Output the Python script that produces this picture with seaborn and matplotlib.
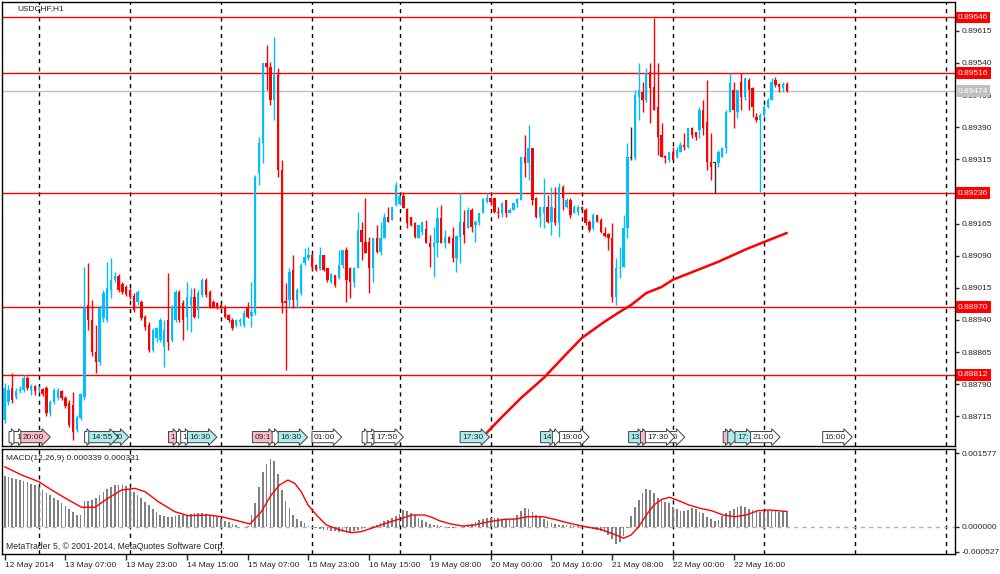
import numpy as np
import pandas as pd
import matplotlib
matplotlib.use("Agg")
import matplotlib.pyplot as plt
import seaborn as sns

sns.set_style("white")
plt.rcParams['font.family'] = ['Liberation Sans', 'DejaVu Sans']

# USDCHF H1 bars, prices in points (1e-5)
opens = [
    88707, 88749, 88782, 88761, 88775, 88777, 88805, 88777, 88786, 88777,
    88779, 88782, 88723, 88749, 88758, 88775, 88758, 88747, 88742, 88684,
    88712, 88761, 88975, 88940, 88866, 88842, 88945, 88940, 89010, 89034,
    89043, 89024, 89017, 89010, 88996, 88982, 88982, 88947, 88929, 88870,
    88898, 88894, 88877, 88940, 88894, 88940, 89006, 88980, 88947, 88975,
    88994, 88964, 88999, 89034, 89006, 88982, 88980, 88975, 88971, 88952,
    88940, 88929, 88936, 88929, 88968, 88950, 88957, 89283, 89353, 89540,
    89531, 89454, 89512, 89290, 88985, 88987, 89057, 88987, 89003, 89073,
    89085, 89092, 89069, 89059, 89092, 89062, 89029, 89045, 89038, 89069,
    89104, 89062, 89029, 89062, 89150, 89122, 89122, 89062, 89132, 89099,
    89132, 89181, 89174, 89209, 89211, 89230, 89199, 89181, 89167, 89132,
    89146, 89153, 89120, 89111, 89120, 89178, 89120, 89134, 89132, 89085,
    89134, 89169, 89155, 89197, 89162, 89169, 89190, 89216, 89225, 89225,
    89192, 89190, 89220, 89190, 89197, 89213, 89220, 89321, 89307, 89342,
    89225, 89181, 89190, 89204, 89169, 89202, 89167, 89251, 89204, 89220,
    89190, 89192, 89204, 89197, 89169, 89155, 89185, 89174, 89143, 89141,
    89132, 88994, 89062, 89064, 89155, 89318, 89321, 89461, 89472, 89454,
    89519, 89484, 89437, 89372, 89323, 89314, 89332, 89321, 89332, 89349,
    89344, 89388, 89379, 89384, 89430, 89402, 89309, 89307, 89307, 89321,
    89342, 89426, 89477, 89426, 89496, 89461, 89500, 89482, 89414, 89407,
    89419, 89437, 89454, 89500, 89491, 89482, 89491,
]
highs = [
    88793, 88789, 88817, 88782, 88786, 88812, 88810, 88791, 88789, 88786,
    88782, 88786, 88754, 88782, 88782, 88777, 88763, 88754, 88772, 88719,
    88770, 89064, 89073, 88987, 88929, 88975, 89010, 89076, 89085, 89052,
    89048, 89029, 89022, 89015, 89003, 89010, 88987, 88952, 88936, 88922,
    88924, 88945, 88940, 89050, 88975, 89010, 89010, 88987, 89029, 89015,
    89015, 89010, 89038, 89038, 89010, 88987, 88982, 88978, 88975, 88954,
    88945, 88943, 88945, 88964, 88982, 89029, 89279, 89367, 89540, 89582,
    89542, 89601, 89528, 89314, 89027, 89062, 89092, 89015, 89073, 89108,
    89111, 89097, 89071, 89111, 89092, 89062, 89050, 89045, 89104, 89104,
    89111, 89064, 89064, 89192, 89169, 89225, 89134, 89132, 89162, 89169,
    89190, 89204, 89204, 89262, 89232, 89239, 89202, 89181, 89169, 89162,
    89169, 89174, 89139, 89157, 89204, 89209, 89150, 89136, 89157, 89139,
    89237, 89197, 89204, 89202, 89174, 89190, 89225, 89237, 89227, 89225,
    89204, 89216, 89220, 89202, 89213, 89225, 89321, 89372, 89395, 89342,
    89227, 89204, 89272, 89232, 89251, 89251, 89260, 89255, 89225, 89225,
    89209, 89209, 89206, 89202, 89174, 89190, 89185, 89178, 89157, 89143,
    89167, 89085, 89111, 89185, 89353, 89391, 89477, 89540, 89496, 89528,
    89540, 89645, 89540, 89400, 89325, 89332, 89344, 89344, 89356, 89377,
    89388, 89391, 89379, 89437, 89454, 89500, 89377, 89309, 89337, 89344,
    89430, 89517, 89496, 89477, 89517, 89505, 89505, 89484, 89423, 89423,
    89442, 89458, 89505, 89507, 89493, 89496, 89496,
]
lows = [
    88700, 88742, 88747, 88756, 88770, 88772, 88777, 88765, 88765, 88772,
    88763, 88716, 88716, 88744, 88754, 88754, 88735, 88691, 88660, 88679,
    88707, 88754, 88917, 88857, 88817, 88835, 88936, 88936, 88992, 89029,
    89006, 89001, 88996, 88989, 88959, 88975, 88940, 88917, 88866, 88866,
    88889, 88889, 88831, 88870, 88889, 88936, 88936, 88894, 88917, 88912,
    88945, 88945, 88994, 88994, 88968, 88968, 88966, 88964, 88945, 88936,
    88917, 88924, 88926, 88924, 88945, 88924, 88952, 89255, 89307, 89477,
    89442, 89407, 89274, 88957, 88824, 88968, 88968, 88968, 88999, 89069,
    89080, 89057, 89055, 89057, 89055, 89029, 89027, 89017, 89036, 89062,
    88982, 88992, 89017, 89062, 89080, 89097, 89003, 89029, 89097, 89092,
    89132, 89169, 89174, 89206, 89209, 89202, 89155, 89160, 89132, 89132,
    89139, 89120, 89064, 89041, 89087, 89120, 89108, 89120, 89076, 89052,
    89073, 89120, 89155, 89146, 89122, 89162, 89190, 89213, 89209, 89190,
    89178, 89181, 89181, 89190, 89197, 89204, 89220, 89274, 89267, 89209,
    89178, 89157, 89155, 89167, 89139, 89162, 89134, 89197, 89202, 89178,
    89190, 89185, 89197, 89162, 89146, 89150, 89169, 89143, 89134, 89104,
    88982, 88975, 89038, 89064, 89132, 89314, 89314, 89407, 89426, 89449,
    89400, 89430, 89325, 89321, 89307, 89309, 89314, 89318, 89332, 89337,
    89342, 89365, 89360, 89365, 89372, 89290, 89267, 89237, 89297, 89321,
    89330, 89426, 89388, 89412, 89430, 89454, 89430, 89414, 89402, 89239,
    89414, 89435, 89454, 89484, 89472, 89472, 89472,
]
closes = [
    88782, 88777, 88754, 88775, 88779, 88805, 88782, 88786, 88775, 88779,
    88768, 88723, 88749, 88777, 88777, 88758, 88740, 88695, 88679, 88714,
    88768, 88968, 88940, 88866, 88842, 88968, 89003, 89015, 89034, 89043,
    89010, 89006, 89001, 88994, 88964, 89006, 88945, 88924, 88870, 88917,
    88922, 88940, 88917, 88889, 88971, 89006, 88940, 88940, 88994, 88994,
    88947, 89003, 89034, 88999, 88971, 88971, 88968, 88968, 88947, 88940,
    88922, 88940, 88940, 88957, 88947, 88959, 89274, 89353, 89540, 89531,
    89454, 89512, 89290, 88980, 88980, 89052, 88987, 89010, 89069, 89087,
    89092, 89064, 89057, 89092, 89057, 89034, 89048, 89022, 89069, 89104,
    89034, 89029, 89062, 89150, 89122, 89097, 89062, 89132, 89099, 89132,
    89181, 89169, 89204, 89255, 89230, 89202, 89167, 89162, 89134, 89162,
    89169, 89120, 89111, 89120, 89178, 89120, 89134, 89120, 89085, 89136,
    89169, 89139, 89197, 89157, 89169, 89190, 89223, 89225, 89216, 89192,
    89190, 89213, 89190, 89197, 89213, 89223, 89321, 89307, 89342, 89220,
    89181, 89204, 89204, 89169, 89204, 89167, 89251, 89225, 89220, 89185,
    89204, 89204, 89197, 89167, 89150, 89185, 89169, 89146, 89136, 89132,
    88994, 89062, 89064, 89155, 89321, 89318, 89465, 89477, 89454, 89517,
    89482, 89430, 89367, 89321, 89318, 89332, 89314, 89337, 89349, 89344,
    89388, 89372, 89367, 89430, 89388, 89309, 89297, 89307, 89332, 89342,
    89426, 89493, 89430, 89477, 89461, 89505, 89477, 89437, 89407, 89419,
    89437, 89454, 89496, 89489, 89484, 89491, 89474,
]

# MACD(12,26,9) main histogram, units of 1e-6
macd = [
    1086, 1065, 1044, 1022, 1001, 980, 959, 916, 895, 852,
    788, 724, 682, 618, 575, 511, 447, 383, 320, 256,
    256, 554, 554, 575, 618, 682, 746, 809, 852, 895,
    895, 895, 873, 809, 746, 682, 618, 533, 469, 383,
    320, 256, 234, 213, 213, 234, 256, 256, 256, 277,
    298, 298, 298, 277, 256, 234, 213, 170, 128, 107,
    64, 43, 5, 3, 21, 256, 511, 852, 1172, 1342,
    1448, 1406, 1129, 788, 554, 405, 256, 170, 128, 85,
    21, 2, -21, -43, -64, -64, -85, -85, -107, -107,
    -128, -107, -85, -64, -43, -21, 2, 21, 43, 85,
    128, 149, 192, 234, 277, 362, 341, 298, 256, 192,
    149, 107, 64, 43, 43, 21, 4, -21, -21, -4,
    4, 21, 43, 64, 107, 149, 170, 192, 192, 192,
    192, 170, 170, 170, 192, 256, 341, 405, 383, 320,
    256, 213, 170, 128, 85, 64, 43, 43, 43, 43,
    21, 21, 4, -4, -21, -43, -64, -85, -107, -170,
    -256, -362, -320, -192, -21, 234, 426, 575, 724, 809,
    788, 724, 618, 575, 533, 511, 426, 383, 341, 341,
    362, 405, 383, 320, 298, 213, 170, 128, 149, 234,
    298, 341, 383, 426, 447, 426, 383, 362, 341, 320,
    320, 341, 341, 341, 320, 341, 339,
]
# MACD signal line read at these bars, units of 1e-6
signal_bars = [0, 4.5, 9, 12.4, 16.8, 20.3, 23.8, 27.3, 30.8, 34.3, 37, 40.5, 44.8,
               48.4, 53.6, 57.1, 60.6, 64.6, 67.6, 70.2, 72.4, 74.6, 76.4, 78.1,
               79.9, 82.1, 84.7, 87.8, 91.3, 93.9, 97.4, 100.9, 104, 107.4, 110.5,
               112.5, 114.5, 117.5, 120.6, 123.6, 127.6, 131.7, 134.7, 137.7, 141.8,
               144.8, 148.8, 152.9, 156.9, 161, 163, 165, 167, 169, 171, 173.1,
               175.1, 177.1, 180.2, 183.2, 186.2, 189.2, 192.3, 195.3, 198.3,
               201.4, 206]
signal_vals = [1284, 1108, 965, 788, 575, 420, 420, 618, 788, 824, 752, 539, 326,
               241, 256, 219, 149, 64, 326, 682, 895, 1001, 931, 752,
               469, 256, 43, -49, -121, -100, -6, 92, 170, 256, 256,
               207, 134, 64, 21, 43, 113, 164, 170, 219, 219,
               164, 79, 6, -49, -170, -241, -170, 6, 256, 469, 590,
               633, 575, 469, 398, 347, 256, 219, 256, 347,
               362, 331]

# red moving average, read at these bars (points)
ma_bars = [127, 131, 136, 142, 147, 152, 158, 162, 165, 169, 173, 176, 184, 188, 195, 200, 206]
ma_vals = [88677, 88714, 88758, 88805, 88852, 88898, 88936, 88959, 88975, 89003,
           89017, 89034, 89062, 89076, 89104, 89122, 89143]

red_levels = [0.89646, 0.89516, 0.89236, 0.88970, 0.88812]
price_ticks = [0.89615, 0.89540, 0.89465, 0.89390, 0.89315, 0.89240, 0.89165,
               0.89090, 0.89015, 0.88940, 0.88865, 0.88790, 0.88715]
hidden_ticks = [0.89240]   # fully covered by the 0.89236 level box
macd_ticks = [0.001577, 0.0, -0.000527]

# calendar event labels along the bottom of the price window: (bar, text, kind)
events = [
    (1.7, " ", "w"), (3.0, "1", "w"), (4.8, "20:00", "p"),
    (21.6, " ", "w"), (28.6, "30", "c"), (22.7, "14:55", "c"),
    (43.7, "1", "p"), (45.8, " ", "w"), (46.9, "1", "w"), (48.7, "16:30", "c"),
    (65.8, "09:1", "p"), (71.0, " ", "w"), (72.6, "16:30", "c"),
    (81.5, "01:00", "w"), (94.7, " ", "w"), (96.0, "1", "w"), (97.8, "17:50", "w"),
    (120.5, "17:30", "c"), (141.7, "14", "c"), (144.8, " ", "w"), (146.7, "19:00", "w"),
    (164.9, "13", "c"), (168.0, " ", "p"), (175.0, "00", "w"), (169.3, "17:30", "w"),
    (189.8, " ", "p"), (191.0, " ", "c"), (192.9, "17:", "c"), (197.0, "21:00", "w"),
    (216.0, "16:00", "w"),
]
event_colors = {"w": "white", "p": "#f7bcc6", "c": "#aeeeee"}

# bar times: Friday ends 22:00, weekend skipped
times = pd.DatetimeIndex(list(pd.date_range("2014-05-12 15:00", "2014-05-16 22:00", freq="h")) +
                         list(pd.date_range("2014-05-19 00:00", periods=103, freq="h")))
future = pd.date_range(times[-1] + pd.Timedelta(hours=1), periods=45, freq="h")
all_times = times.append(future)

o = np.array(opens) / 1e5
h = np.array(highs) / 1e5
l = np.array(lows) / 1e5
c = np.array(closes) / 1e5
h = np.maximum(h, np.maximum(o, c))
l = np.minimum(l, np.minimum(o, c))
x = np.arange(len(c))
m = np.array(macd) / 1e6

fig = plt.figure(figsize=(10, 5.74), dpi=100)
ax = fig.add_axes([0.002, 1 - 446 / 574, 0.953, 444 / 574])
ax2 = fig.add_axes([0.002, 1 - 554 / 574, 0.953, 105 / 574])

xmin, xmax = -0.7, 250.3
for a in (ax, ax2):
    a.set_xlim(xmin, xmax)
    for s in a.spines.values():
        s.set_color("black")
        s.set_linewidth(1)
    seps = [i for i, t in enumerate(all_times) if t.hour == 0]
    for sp in seps:
        a.axvline(sp, color="black", lw=1, ls=(0, (3, 3)), zorder=1)

# price window
ax.set_ylim(0.88646, 0.89682)
for lv in red_levels:
    ax.axhline(lv, color="red", lw=1, zorder=2)
ax.axhline(c[-1], color="#c0c0c0", lw=1, zorder=2)

cols = np.where(c > o, "#00bfff", np.where(c < o, "#ff0000", "#303030"))
ax.vlines(x, l, h, colors=cols, lw=1, zorder=3)
ax.bar(x, np.maximum(np.abs(c - o), 0.000012), bottom=np.minimum(o, c), width=0.62,
       color=cols, linewidth=0, zorder=4)

sns.lineplot(x=ma_bars, y=np.array(ma_vals) / 1e5, color="red", lw=1.8, ax=ax, zorder=5)

ax.yaxis.tick_right()
ax.set_yticks(price_ticks)
ax.set_yticklabels(["" if v in hidden_ticks else f"{v:.5f}" for v in price_ticks])
ax.tick_params(axis="y", direction="out", length=3, width=1, pad=2, labelsize=6, right=True)
ax.set_xticks([])
ax.set_xlabel("")
ax.set_ylabel("")

ytr = ax.get_yaxis_transform()
for lv in red_levels:
    ax.text(1.003, lv, f"{lv:.5f}", transform=ytr, ha="left", va="center", fontsize=6,
            color="white", zorder=10, clip_on=False,
            bbox=dict(boxstyle="square,pad=0.28", fc="red", ec="none"))
ax.text(1.003, c[-1], f"{c[-1]:.5f}", transform=ytr, ha="left", va="center", fontsize=6,
        color="white", zorder=10, clip_on=False,
        bbox=dict(boxstyle="square,pad=0.28", fc="#c0c0c0", ec="none"))

ax.text(0.016, 0.993, "USDCHF,H1", transform=ax.transAxes, ha="left", va="top", fontsize=6)

xtr = ax.get_xaxis_transform()
for k, (b, txt, kind) in enumerate(events):
    ax.text(b, 0.020, txt, transform=xtr, ha="left", va="center", fontsize=6, zorder=20 + k,
            bbox=dict(boxstyle="rarrow,pad=0.25", fc=event_colors[kind], ec="#404040", lw=0.7))

# MACD window
ax2.set_ylim(-0.000576, 0.001663)
ax2.axhline(0, color="#b0b0b0", lw=1, ls=(0, (3, 3)), zorder=2)
ax2.bar(x, m, width=0.45, color="#808080", linewidth=0, zorder=3)
sns.lineplot(x=signal_bars, y=np.array(signal_vals) / 1e6, color="red", lw=1, ax=ax2, zorder=4)
ax2.yaxis.tick_right()
ax2.set_yticks(macd_ticks)
ax2.set_yticklabels([f"{v:.6f}" for v in macd_ticks])
ax2.tick_params(axis="y", direction="out", length=3, width=1, pad=2, labelsize=6, right=True)
ax2.set_ylabel("")
ax2.set_xlabel("")

label_bars = list(range(0, len(c), 16))
label_txt = [times[i].strftime("%d %b %Y") if i == 0 else times[i].strftime("%d %b %H:%M")
             for i in label_bars]
ax2.set_xticks(label_bars)
ax2.set_xticklabels(label_txt, ha="left")
ax2.tick_params(axis="x", direction="out", length=4, width=1, pad=2, labelsize=6, bottom=True)

sig_last = signal_vals[-1] / 1e6
ax2.text(0.004, 0.914, f"MACD(12,26,9) {m[-1]:.6f} {sig_last:.6f}", transform=ax2.transAxes,
         ha="left", va="center", fontsize=6)
ax2.text(0.004, 0.067, "MetaTrader 5, \u00a9 2001-2014, MetaQuotes Software Corp.",
         transform=ax2.transAxes, ha="left", va="center", fontsize=6.2)

fig.savefig("out.png", dpi=100)
